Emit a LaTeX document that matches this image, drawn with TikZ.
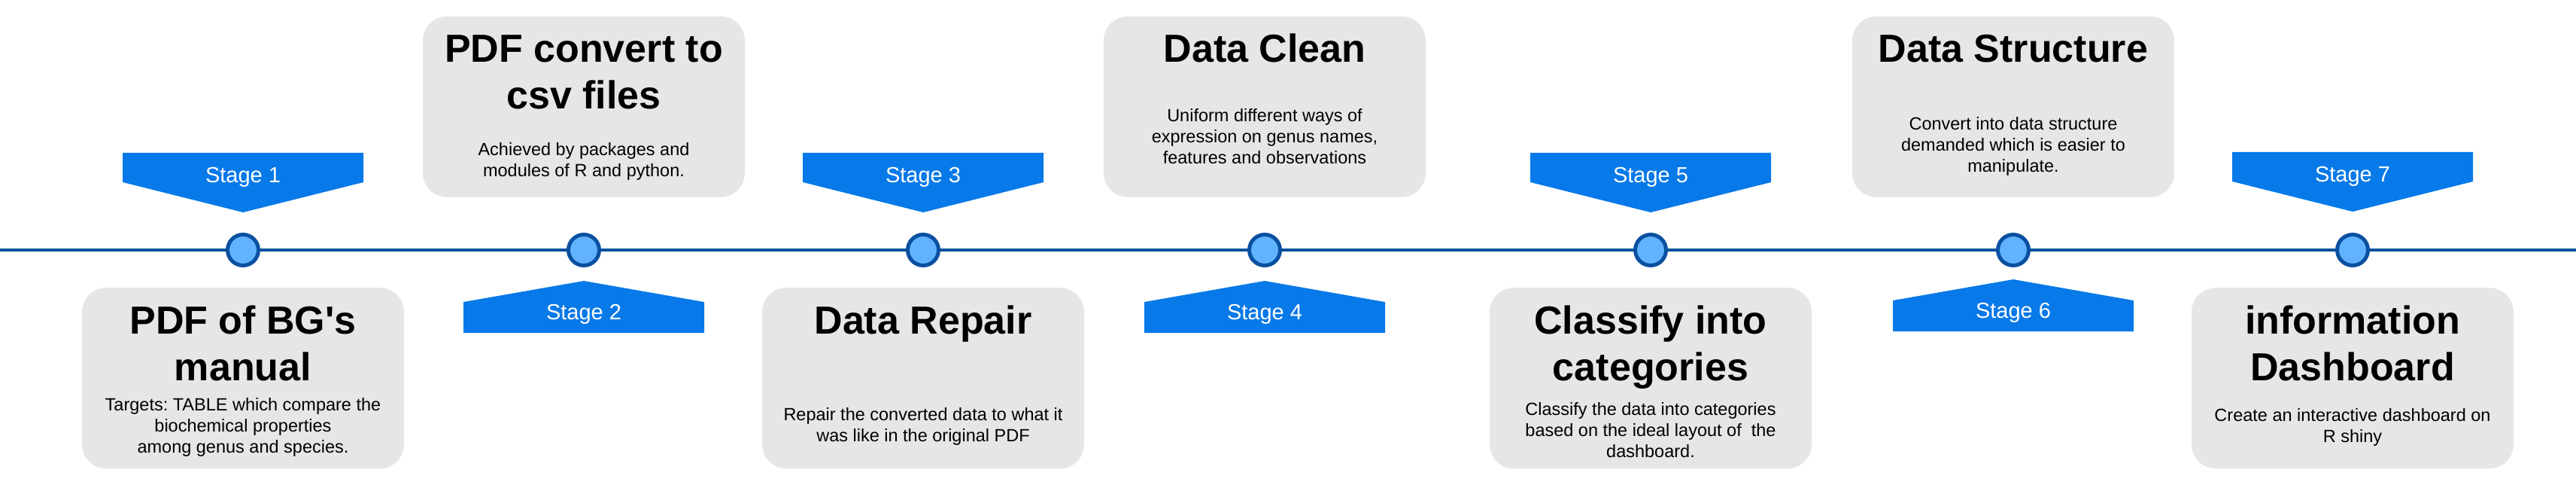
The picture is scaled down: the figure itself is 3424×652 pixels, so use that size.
\documentclass[tikz,border=0pt]{standalone}
\usepackage{fontspec}
\setmainfont{Liberation Sans}
\frenchspacing
\usetikzlibrary{positioning}

\definecolor{tagblue}{RGB}{8,121,232}
\definecolor{lineblue}{RGB}{10,80,160}
\definecolor{dotblue}{RGB}{98,179,255}
\definecolor{cardgray}{RGB}{230,230,230}

\begin{document}
\begin{tikzpicture}[x=1pt,y=-1pt,
    dot/.style={circle,draw=lineblue,fill=dotblue,line width=5pt,
                minimum size=41pt,inner sep=0pt},
    card/.style={rectangle,rounded corners=32pt,fill=cardgray,
                 minimum width=428pt,minimum height=240pt},
    headline/.style={font=\fontsize{52}{62}\selectfont\bfseries,
                     align=center,anchor=base},
    blurb/.style={font=\fontsize{23.5}{28}\selectfont,align=center,anchor=base},
    tagtext/.style={font=\fontsize{29}{34}\selectfont,text=white,anchor=base},
    downtag/.pic={\fill[tagblue] (-160,0) -- (160,0) -- (160,39) -- (0,79)
                    -- (-160,39) -- cycle;
                  \node[tagtext] (-lbl) at (0,40) {#1};},
    uptag/.pic={\fill[tagblue] (0,0) -- (160,28) -- (160,69) -- (-160,69)
                  -- (-160,28) -- cycle;
                \node[tagtext] (-lbl) at (0,51) {#1};}]

  \useasboundingbox (0,0) rectangle (3424,652);

  % timeline
  \coordinate (tl-w) at (0,332);
  \coordinate (tl-e) at (3424,332);
  \node[dot] (c1) at (323,332)  {};
  \node[dot] (c2) at (776,332)  {};
  \node[dot] (c3) at (1227,332) {};
  \node[dot] (c4) at (1681,332) {};
  \node[dot] (c5) at (2194,332) {};
  \node[dot] (c6) at (2676,332) {};
  \node[dot] (c7) at (3127,332) {};
  \draw[lineblue,line width=4pt] (tl-w) -- (c1) -- (c2) -- (c3) -- (c4)
        -- (c5) -- (c6) -- (c7) -- (tl-e);

  % stage tags
  \pic (s1) at (323,203)  {downtag=Stage 1};
  \pic (s2) at (776,373)  {uptag=Stage 2};
  \pic (s3) at (1227,203) {downtag=Stage 3};
  \pic (s4) at (1681,373) {uptag=Stage 4};
  \pic (s5) at (2194,203) {downtag=Stage 5};
  \pic (s6) at (2676,371) {uptag=Stage 6};
  \pic (s7) at (3127,202) {downtag=Stage 7};

  % cards (base = last line)
  \node[card] (k1) [below=27pt of c1] {};
  \node[card] (k2) [above=47pt of c2] {};
  \node[card] (k3) [below=27pt of c3] {};
  \node[card] (k4) [above=47pt of c4] {};
  \node[card] (k5) [below=27pt of c5] {};
  \node[card] (k6) [above=47pt of c6] {};
  \node[card] (k7) [below=27pt of c7] {};

  \node[headline] (h1) at ([yshift=-123pt]k1.north) {PDF of BG\textquotesingle s\\manual};
  \node[headline] (h2) at ([yshift=-123pt]k2.north) {PDF convert to\\csv files};
  \node[headline] (h3) at ([yshift=-61pt]k3.north)  {Data Repair};
  \node[headline] (h4) at ([yshift=-61pt]k4.north)  {Data Clean};
  \node[headline] (h5) at ([yshift=-123pt]k5.north) {Classify into\\categories};
  \node[headline] (h6) at ([yshift=-61pt]k6.north)  {Data Structure};
  \node[headline] (h7) at ([yshift=-123pt]k7.north) {information\\Dashboard};

  \node[blurb] (d1) at ([yshift=-219pt]k1.north)
       {Targets: TABLE which compare the\\biochemical properties\\among genus and species.};
  \node[blurb] (d2) at ([yshift=-213pt]k2.north)
       {Achieved by packages and\\modules of R and python.};
  \node[blurb] (d3) at ([yshift=-204pt]k3.north)
       {Repair the converted data to what it\\was like in the original PDF};
  \node[blurb] (d4) at ([yshift=-196pt]k4.north)
       {Uniform different ways of\\expression on genus names,\\features and observations};
  \node[blurb] (d5) at ([yshift=-225pt]k5.north)
       {Classify the data into categories\\based on the ideal layout of~ the\\dashboard.};
  \node[blurb] (d6) at ([yshift=-207pt]k6.north)
       {Convert into data structure\\demanded which is easier to\\manipulate.};
  \node[blurb] (d7) at ([yshift=-205pt]k7.north)
       {Create an interactive dashboard on\\R shiny};
\end{tikzpicture}
\end{document}
